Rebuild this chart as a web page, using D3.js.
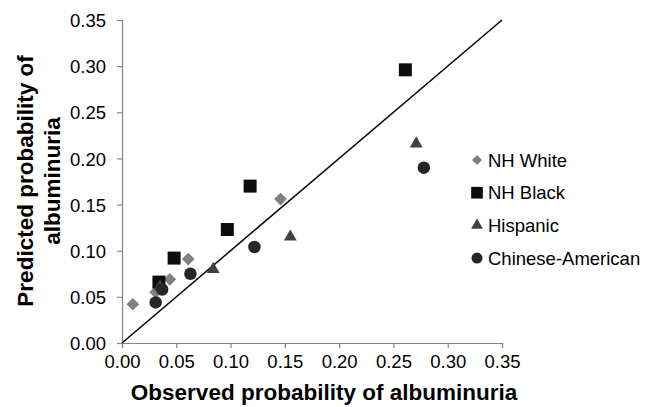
<!DOCTYPE html>
<html>
<head>
<meta charset="utf-8">
<script src="https://cdn.jsdelivr.net/npm/d3@7"></script>
<style>
  body { margin: 0; background: #fff; }
  text { font-family: "Liberation Sans", Arial, sans-serif; }
</style>
</head>
<body>
<div id="chart"></div>
<script>
// observed (x) and predicted (y) probability, per group
let whiteX = [0.010, 0.031, 0.044, 0.061, 0.146]
let whiteY = [0.042, 0.055, 0.069, 0.091, 0.156]
let blackX = [0.034, 0.048, 0.097, 0.118, 0.261]
let blackY = [0.066, 0.092, 0.123, 0.170, 0.296]
let hispX = [0.035, 0.084, 0.155, 0.271]
let hispY = [0.061, 0.080, 0.115, 0.216]
let chinX = [0.031, 0.037, 0.063, 0.122, 0.278]
let chinY = [0.044, 0.058, 0.075, 0.104, 0.190]

let groupNames = ["NH White", "NH Black", "Hispanic", "Chinese-American"]
let ticks = [0, 0.05, 0.10, 0.15, 0.20, 0.25, 0.30, 0.35]

let series = [
  {name: groupNames[0], xs: whiteX, ys: whiteY, shape: "diamond", color: "#808080", size: 81, lsize: 50},
  {name: groupNames[1], xs: blackX, ys: blackY, shape: "square", color: "#0d0d0d", size: 169, lsize: 137},
  {name: groupNames[2], xs: hispX, ys: hispY, shape: "triangle", color: "#404040", size: 72, lsize: 60},
  {name: groupNames[3], xs: chinX, ys: chinY, shape: "circle", color: "#262626", size: 123, lsize: 95}
]

let svg = d3.select("#chart").append("svg")
  .attr("width", 646)
  .attr("height", 407)

let x = d3.scaleLinear().domain([0, 0.35]).range([122, 502])
let y = d3.scaleLinear().domain([0, 0.35]).range([343, 20])

function symbolFor(shape, size) {
  let t = {square: d3.symbolSquare, diamond: d3.symbolSquare,
           triangle: d3.symbolTriangle, circle: d3.symbolCircle}[shape]
  return d3.symbol().type(t).size(size)()
}

// axes
let xAxis = svg.append("g")
  .attr("transform", "translate(0,343)")
  .call(d3.axisBottom(x).tickValues(ticks).tickFormat(d3.format(".2f")).tickSizeOuter(0).tickSize(5))
let yAxis = svg.append("g")
  .attr("transform", "translate(122,0)")
  .call(d3.axisLeft(y).tickValues(ticks).tickFormat(d3.format(".2f")).tickSizeOuter(0).tickSize(5))

svg.selectAll(".domain, .tick line").attr("stroke", "#868686").attr("stroke-width", 1.2)
svg.selectAll(".tick text")
  .style("font-family", "'Liberation Sans', Arial, sans-serif")
  .style("font-size", "18.5px")
  .attr("fill", "#000")
xAxis.selectAll(".tick text").attr("y", 12).attr("dy", "0.71em")
yAxis.selectAll(".tick text").attr("x", -16).attr("dy", "0.36em")

// diagonal reference line
svg.append("line")
  .attr("x1", x(0)).attr("y1", y(0))
  .attr("x2", x(0.35)).attr("y2", y(0.35))
  .attr("stroke", "#000")
  .attr("stroke-width", 1.5)

// points
series.forEach(function(s) {
  svg.append("g").selectAll("path")
    .data(s.xs.map((d, i) => [d, s.ys[i]]))
    .enter()
    .append("path")
    .attr("d", symbolFor(s.shape, s.size))
    .attr("transform", d => "translate(" + x(d[0]) + "," + y(d[1]) + ")" + (s.shape == "diamond" ? " rotate(45)" : ""))
    .attr("fill", s.color)
})

// legend
let legend = svg.append("g")
series.forEach(function(s, i) {
  let ly = 160 + i * 32.7
  legend.append("path")
    .attr("d", symbolFor(s.shape, s.lsize))
    .attr("transform", "translate(477," + ly + ")" + (s.shape == "diamond" ? " rotate(45)" : ""))
    .attr("fill", s.color)
  legend.append("text")
    .attr("x", 488)
    .attr("y", ly)
    .attr("dy", "0.36em")
    .style("font-size", "18.5px")
    .text(s.name)
})

// axis titles
svg.append("text")
  .attr("x", 324)
  .attr("y", 400)
  .attr("text-anchor", "middle")
  .style("font-size", "22.5px")
  .style("font-weight", "bold")
  .text("Observed probability of albuminuria")

let yt = svg.append("text")
  .attr("transform", "translate(33,181) rotate(-90)")
  .attr("text-anchor", "middle")
  .style("font-size", "22.5px")
  .style("font-weight", "bold")
yt.append("tspan").attr("x", 0).attr("y", 0).text("Predicted probability of")
yt.append("tspan").attr("x", 0).attr("y", 27).text("albuminuria")
</script>
</body>
</html>
